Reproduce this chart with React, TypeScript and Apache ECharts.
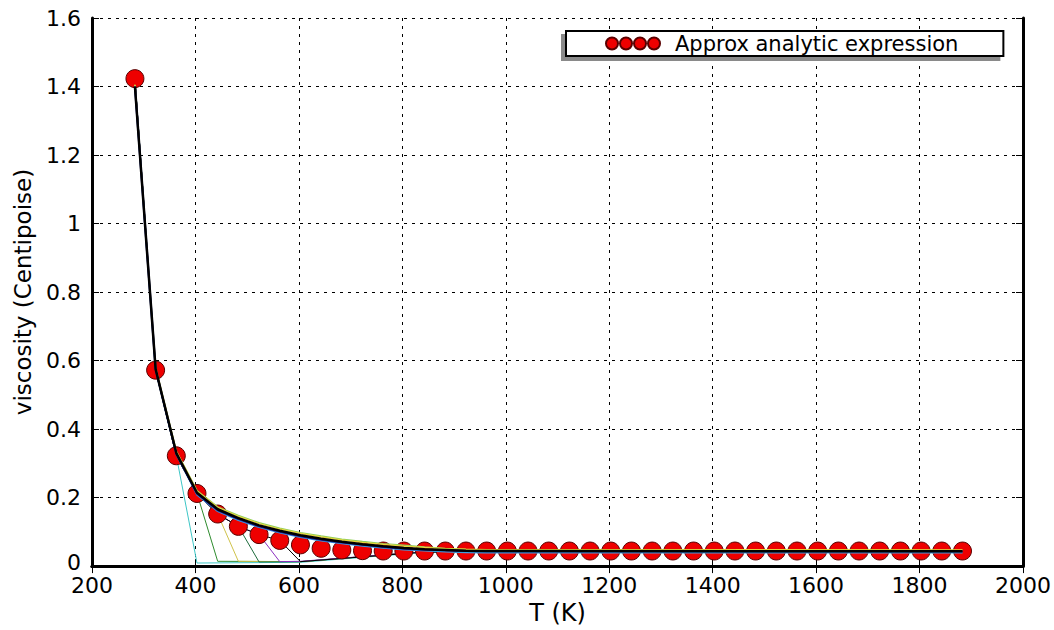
import React, { useEffect, useRef } from "react";
import * as echarts from "echarts";

// Temperatures (K) of the analytic-expression markers
const DOT_T = [
  283, 323, 363, 403, 443, 483, 523, 563, 603, 643, 683, 723, 763, 803, 843, 883, 923, 963, 1003, 1043,
  1083, 1123, 1163, 1203, 1243, 1283, 1323, 1363, 1403, 1443, 1483, 1523, 1563, 1603, 1643, 1683, 1723,
  1763, 1803, 1843, 1883,
];
// Viscosity (cP) of the markers
const DOT_V = [
  1.423, 0.572, 0.322, 0.212, 0.152, 0.116, 0.092, 0.075, 0.062, 0.052, 0.047, 0.045, 0.044, 0.044, 0.044,
  0.044, 0.044, 0.044, 0.044, 0.044, 0.044, 0.044, 0.044, 0.044, 0.044, 0.044, 0.044, 0.044, 0.044, 0.044,
  0.044, 0.044, 0.044, 0.044, 0.044, 0.044, 0.044, 0.044, 0.044, 0.044, 0.044,
];

// Smooth curves (drawn on top of the markers)
const BAND_T = [283, 323, 363, 403, 443, 483, 523, 563, 603, 643, 683, 723, 763, 803, 843, 883, 923, 963, 1883];
const BAND_GREEN = [1.405, 0.58, 0.336, 0.221, 0.173, 0.148, 0.127, 0.111, 0.098, 0.088, 0.079, 0.072, 0.066, 0.061, 0.056, 0.052, 0.049, 0.047, 0.046];
const BAND_YELLOW = [1.405, 0.58, 0.335, 0.219, 0.171, 0.145, 0.124, 0.108, 0.095, 0.085, 0.076, 0.069, 0.063, 0.058, 0.054, 0.051, 0.049, 0.048, 0.047];
const BAND_BLUE = [1.4, 0.572, 0.326, 0.208, 0.16, 0.134, 0.113, 0.097, 0.084, 0.074, 0.066, 0.059, 0.053, 0.048, 0.045, 0.042, 0.04, 0.039, 0.039];
const BAND_NAVY = [1.4, 0.575, 0.328, 0.211, 0.163, 0.137, 0.116, 0.1, 0.087, 0.077, 0.069, 0.062, 0.056, 0.051, 0.048, 0.046, 0.044, 0.043, 0.043];
const BAND_BLACK = [1.4, 0.575, 0.33, 0.214, 0.166, 0.14, 0.119, 0.103, 0.09, 0.08, 0.071, 0.064, 0.058, 0.053, 0.049, 0.047, 0.045, 0.044, 0.0435];

// Truncated curves that drop towards zero (drawn under the markers): [T, viscosity]
const DROP_CYAN = [[283, 1.423], [323, 0.572], [363, 0.322], [403, 0.009], [603, 0.011], [843, 0.04], [1883, 0.041]];
const DROP_GREEN = [[283, 1.423], [323, 0.572], [363, 0.322], [403, 0.212], [443, 0.014], [603, 0.013], [843, 0.042], [1883, 0.043]];
const DROP_YELLOW = [[283, 1.423], [323, 0.572], [363, 0.322], [403, 0.212], [443, 0.152], [483, 0.014], [603, 0.013], [843, 0.042], [1883, 0.043]];
const DROP_DKGREEN = [[283, 1.423], [323, 0.572], [363, 0.322], [403, 0.212], [443, 0.152], [483, 0.116], [523, 0.012], [603, 0.013], [843, 0.042], [1883, 0.043]];
const DROP_PURPLE = [[283, 1.423], [323, 0.572], [363, 0.322], [403, 0.212], [443, 0.152], [483, 0.116], [523, 0.092], [563, 0.013], [603, 0.014], [843, 0.042], [1883, 0.043]];
const DROP_BLACK = [[283, 1.423], [323, 0.572], [363, 0.322], [403, 0.212], [443, 0.152], [483, 0.116], [523, 0.092], [563, 0.075], [603, 0.013], [843, 0.041], [1883, 0.043]];

const X_MIN = 200;
const X_MAX = 2000;
const X_STEP = 200;
const Y_MIN = 0;
const Y_MAX = 1.6;
const Y_STEP = 0.2;

const FONT = "DejaVu Sans";

const zip = (xs: number[], ys: number[]) => xs.map((x, i) => [x, ys[i]]);

const LEGEND_ICON =
  "path://M0,6a6,6 0 1,0 12,0a6,6 0 1,0 -12,0Z M14,6a6,6 0 1,0 12,0a6,6 0 1,0 -12,0Z M28,6a6,6 0 1,0 12,0a6,6 0 1,0 -12,0Z M42,6a6,6 0 1,0 12,0a6,6 0 1,0 -12,0Z";

export default function App() {
  const ref = useRef<HTMLDivElement>(null);

  useEffect(() => {
    if (!ref.current) return;
    const chart = echarts.init(ref.current, undefined, { renderer: "svg" });

    const gridLine = { show: true, lineStyle: { color: "#000", width: 1, type: [3, 5] as any } };
    const tick = { show: true, inside: true, length: 7, lineStyle: { color: "#000", width: 1 } };
    const axisLine = { show: true, lineStyle: { color: "#000", width: 3 } };

    const dropLine = (name: string, data: number[][], color: string) => ({
      name,
      type: "line",
      data,
      showSymbol: false,
      symbol: "none",
      z: 1,
      lineStyle: { color, width: 1 },
      silent: true,
    });
    const bandLine = (name: string, vals: number[], color: string, width: number) => ({
      name,
      type: "line",
      data: zip(BAND_T, vals),
      showSymbol: false,
      symbol: "none",
      z: 3,
      lineStyle: { color, width },
      silent: true,
    });

    chart.setOption({
      animation: false,
      backgroundColor: "#fff",
      textStyle: { fontFamily: FONT },
      grid: { left: 92, right: 30, top: 18, bottom: 62 },
      legend: {
        data: ["Approx analytic expression"],
        left: 566,
        top: 31,
        orient: "horizontal",
        icon: LEGEND_ICON,
        itemWidth: 54,
        itemHeight: 12,
        padding: [2, 45, 2, 39],
        backgroundColor: "#fff",
        borderColor: "#000",
        borderWidth: 2,
        borderRadius: 0,
        shadowColor: "#8a8a8a",
        shadowBlur: 0,
        shadowOffsetX: -4,
        shadowOffsetY: 4,
        textStyle: { fontFamily: FONT, fontSize: 21, color: "#000", padding: [0, 0, 0, 10] },
        selectedMode: false,
      },
      xAxis: [
        {
          type: "value",
          min: X_MIN,
          max: X_MAX,
          interval: X_STEP,
          name: "T (K)",
          nameLocation: "middle",
          nameGap: 32,
          nameTextStyle: { fontFamily: FONT, fontSize: 24, color: "#000" },
          axisLine,
          axisTick: tick,
          axisLabel: { fontFamily: FONT, fontSize: 22, color: "#000", margin: 8, formatter: (v: number) => String(v) },
          splitLine: gridLine,
        },
        {
          type: "value",
          position: "top",
          min: X_MIN,
          max: X_MAX,
          interval: X_STEP,
          axisLine,
          axisTick: tick,
          axisLabel: { show: false },
          splitLine: { show: false },
        },
      ],
      yAxis: [
        {
          type: "value",
          min: Y_MIN,
          max: Y_MAX,
          interval: Y_STEP,
          name: "viscosity (Centipoise)",
          nameLocation: "middle",
          nameGap: 58,
          nameTextStyle: { fontFamily: FONT, fontSize: 23, color: "#000" },
          axisLine,
          axisTick: tick,
          axisLabel: {
            fontFamily: FONT,
            fontSize: 22,
            color: "#000",
            margin: 11,
            formatter: (v: number) => (v === 0 ? "{z|0}" : String(v)),
            rich: { z: { fontFamily: FONT, fontSize: 22, color: "#000", padding: [0, 0, 8, 0] } },
          },
          splitLine: gridLine,
        },
        {
          type: "value",
          position: "right",
          min: Y_MIN,
          max: Y_MAX,
          interval: Y_STEP,
          axisLine,
          axisTick: tick,
          axisLabel: { show: false },
          splitLine: { show: false },
        },
      ],
      series: [
        dropLine("cyan", DROP_CYAN, "#3cc6c6"),
        dropLine("green", DROP_GREEN, "#2e8b2e"),
        dropLine("yellow", DROP_YELLOW, "#cfc24a"),
        dropLine("darkgreen", DROP_DKGREEN, "#1d6b3c"),
        dropLine("purple", DROP_PURPLE, "#8c2fc0"),
        dropLine("black", DROP_BLACK, "#000000"),
        {
          name: "Approx analytic expression",
          type: "scatter",
          data: zip(DOT_T, DOT_V),
          symbol: "circle",
          symbolSize: 18,
          z: 2,
          itemStyle: { color: "#ee0000", borderColor: "#5a0000", borderWidth: 1, opacity: 1 },
        },
        bandLine("band green", BAND_GREEN, "#8fd05a", 1.2),
        bandLine("band yellow", BAND_YELLOW, "#e3d43c", 1.5),
        bandLine("band blue", BAND_BLUE, "#3aa0e0", 1.5),
        bandLine("band navy", BAND_NAVY, "#1a1a9a", 2),
        bandLine("band black", BAND_BLACK, "#000000", 2.5),
      ],
    });

    return () => chart.dispose();
  }, []);

  return (
    <div
      ref={ref}
      style={{ position: "fixed", left: 0, top: 0, width: 1054, height: 630, background: "#fff" }}
    />
  );
}
